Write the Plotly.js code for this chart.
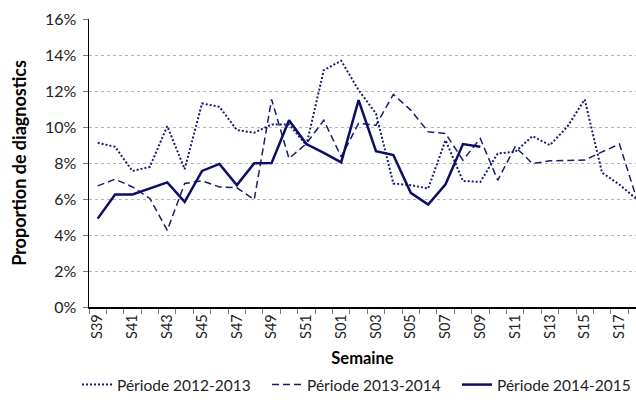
<!DOCTYPE html>
<html>
<head>
<meta charset="utf-8">
<script src="https://cdn.plot.ly/plotly-3.0.1.min.js"></script>
<style>
html,body{margin:0;padding:0;background:#fff;}
#chart{width:636px;height:402px;}
</style>
</head>
<body>
<div id="chart"></div>
<script>
// Weeks (categories)
const weeks = ["S39","S40","S41","S42","S43","S44","S45","S46","S47","S48","S49","S50","S51","S52",
  "S01","S02","S03","S04","S05","S06","S07","S08","S09","S10","S11","S12","S13","S14","S15","S16","S17","S18"];

// Proportion de diagnostics (%)
const periode2012_2013 = [9.12,8.90,7.55,7.79,10.05,7.66,11.31,11.12,9.83,9.68,10.14,10.14,9.0,13.16,
  13.68,12.05,10.75,6.86,6.77,6.58,9.27,7.0,6.95,8.53,8.62,9.49,8.99,10.01,11.53,7.46,6.8,5.98];
const periode2013_2014 = [6.73,7.10,6.67,6.03,4.26,6.86,7.01,6.67,6.62,5.97,11.53,8.25,9.08,10.38,
  8.34,10.2,10.1,11.81,10.94,9.73,9.64,8.16,9.36,7.04,8.9,7.97,8.12,8.16,8.16,8.62,9.05,5.98];
const periode2014_2015 = [4.91,6.25,6.25,6.58,6.92,5.84,7.56,7.95,6.77,7.99,8.0,10.38,9.05,8.56,
  8.03,11.49,8.66,8.44,6.34,5.69,6.82,9.05,8.90];

const seriesNames = ["Période 2012-2013","Période 2013-2014","Période 2014-2015"];
const yTicks = [0,2,4,6,8,10,12,14,16];

const idx = weeks.map((w,i)=>i);
const labelIdx = idx.filter(i=>i%2===0);
const labelTxt = labelIdx.map(i=>weeks[i]);

const FONT = "Lato, 'Open Sans', sans-serif";
const navy = "#1b1b72";

const traces = [
  {x: idx.slice(0,periode2012_2013.length), y: periode2012_2013, name: seriesNames[0], mode:"lines",
   line:{color:navy, width:2, dash:"2px,2px"}, legend:"legend"},
  {x: idx.slice(0,periode2013_2014.length), y: periode2013_2014, name: seriesNames[1], mode:"lines",
   line:{color:navy, width:1.5, dash:"7px,4px"}, legend:"legend2"},
  {x: idx.slice(0,periode2014_2015.length), y: periode2014_2015, name: seriesNames[2], mode:"lines",
   line:{color:"#0d0d66", width:2.5}, legend:"legend3"}
];

function leg(xpx){
  return {orientation:"h", xref:"container", yref:"container", x:xpx/636, xanchor:"left",
    y:1-385/402, yanchor:"middle", font:{size:15.5, family:FONT, color:"#222"}, itemwidth:30,
    bgcolor:"rgba(0,0,0,0)"};
}

const layout = {
  width:636, height:402,
  margin:{l:89, r:0, t:19, b:95, autoexpand:false},
  paper_bgcolor:"#fff", plot_bgcolor:"#fff",
  font:{family:FONT, size:15, color:"#222"},
  showlegend:true,
  legend:leg(77), legend2:leg(267), legend3:leg(457),
  xaxis:{
    range:[-0.5,30.95], tickmode:"array", tickvals:labelIdx, ticktext:labelTxt,
    tickangle:-90, ticks:"", showgrid:false, zeroline:false, automargin:false,
    showline:true, linecolor:"#000", linewidth:1.5,
    minor:{tick0:-0.5, dtick:1, ticks:"outside", ticklen:5, tickcolor:"#777", tickwidth:1, showgrid:false},
    tickfont:{size:14.5, family:FONT, color:"#222"},
    title:{text:"<b>Semaine</b>", font:{size:16.5, family:FONT, color:"#000"}, standoff:18}
  },
  yaxis:{
    range:[0,16], tickmode:"array", tickvals:yTicks, ticktext:yTicks.map(v=>v+"%"),
    ticks:"outside", ticklen:5, tickcolor:"#777", tickwidth:1, automargin:false,
    ticklabelstandoff:3,
    showgrid:true, gridcolor:"#b5b5b5", gridwidth:1, griddash:"dot",
    zeroline:false, showline:true, linecolor:"#000", linewidth:1.5,
    tickfont:{size:16, family:FONT, color:"#222"},
    title:{text:"<b>Proportion de diagnostics</b>", font:{size:18, family:FONT, color:"#000"}, standoff:13}
  }
};

Plotly.newPlot("chart", traces, layout, {staticPlot:true, displayModeBar:false});
</script>
</body>
</html>
